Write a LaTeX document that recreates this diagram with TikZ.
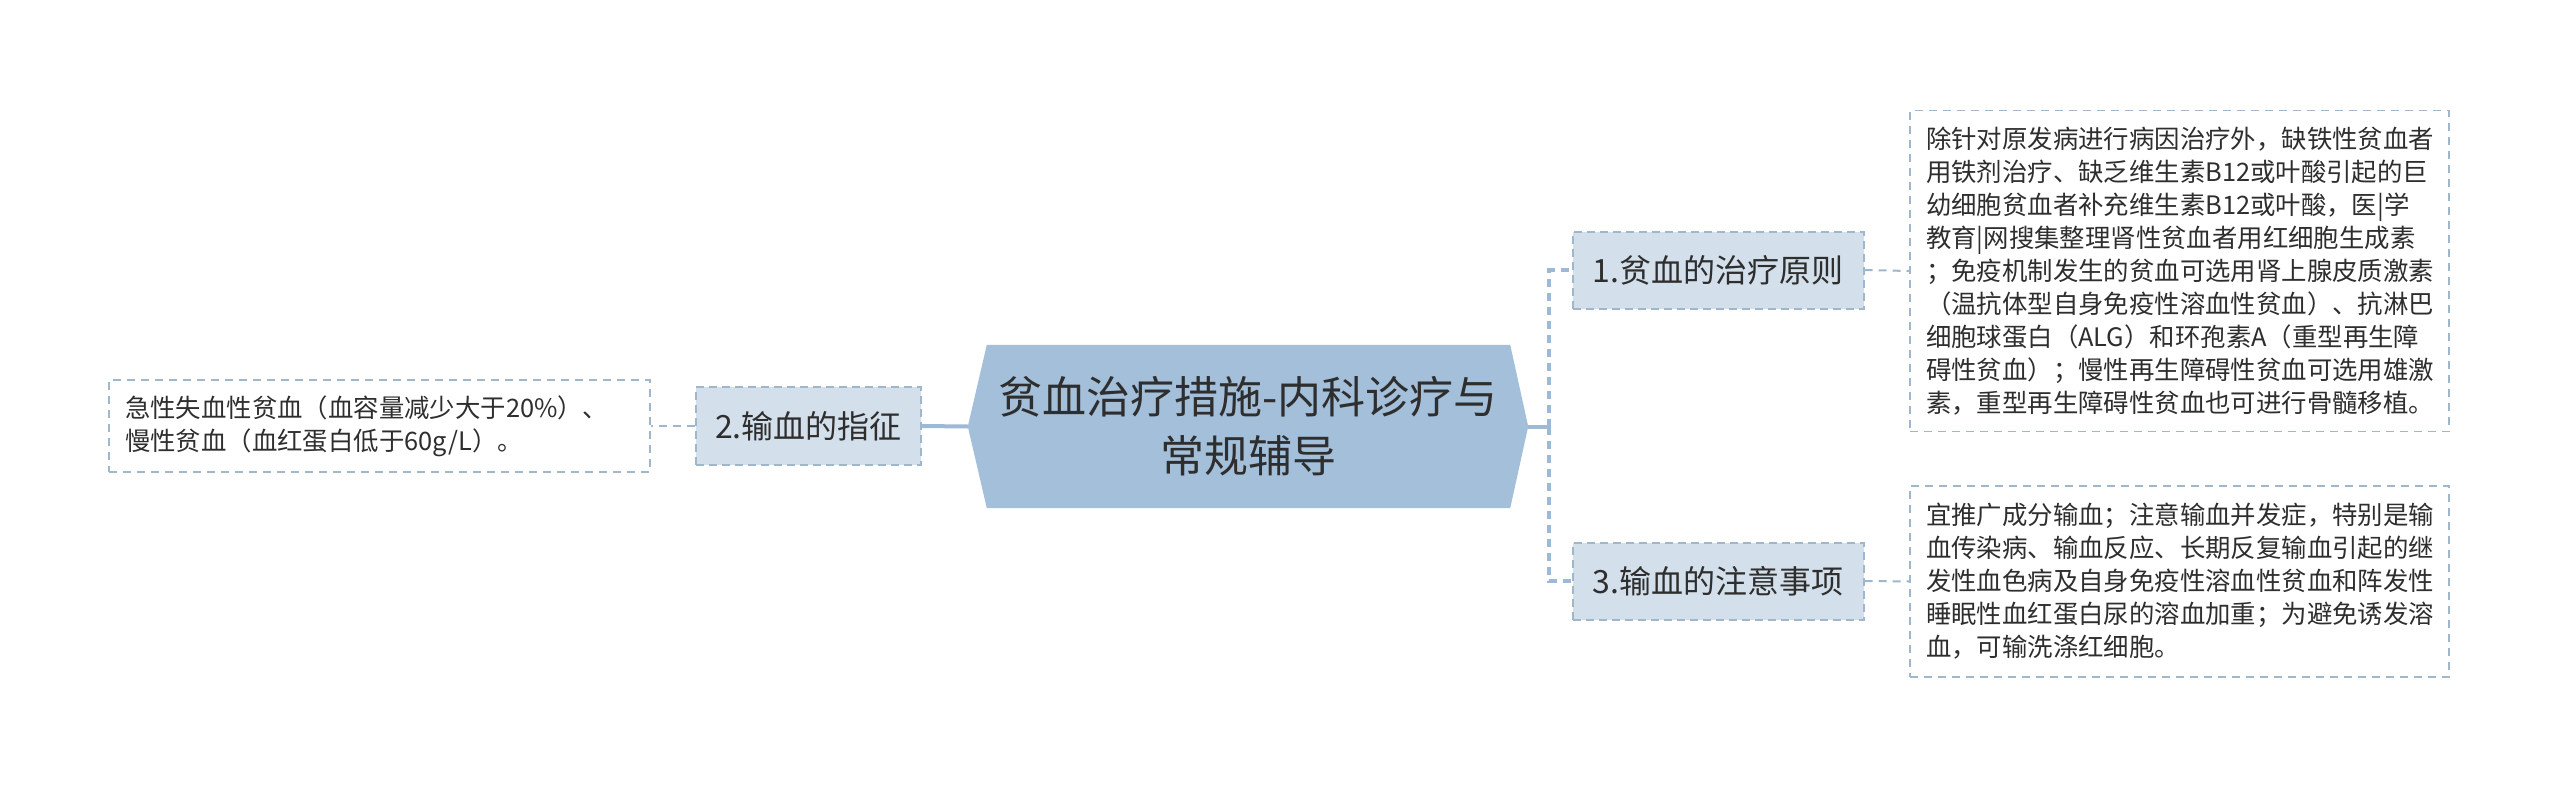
\documentclass[tikz,border=0pt]{standalone}
\usepackage{fontspec}
\setmainfont{Noto Sans CJK SC}
\usetikzlibrary{backgrounds}
\definecolor{centerfill}{HTML}{A3BFDA}
\definecolor{boxfill}{HTML}{D3DFEA}
\definecolor{linec}{HTML}{9DB9D4}
\definecolor{bordc}{HTML}{A0B6CB}
\definecolor{txt}{HTML}{2E2E2E}
\tikzset{
  branchbox/.style={draw=bordc, fill=boxfill, line width=2pt, dash pattern=on 8pt off 5pt,
    minimum width=291pt, minimum height=77pt, inner sep=0pt, text=txt,
    font=\fontsize{32}{37}\selectfont},
  leafbox/.style={draw=bordc, fill=white, line width=1.8pt, dash pattern=on 8pt off 6pt,
    inner xsep=16pt, inner ysep=0pt, text width=507pt, align=left, text=txt,
    font=\fontsize{25.4}{33}\selectfont},
  solidlink/.style={draw=linec, line width=4pt},
  dashlink/.style={draw=linec, line width=3.5pt, dash pattern=on 8pt off 6pt},
  leaflink/.style={draw=bordc, line width=2pt, dash pattern=on 8pt off 6pt},
}
\begin{document}
\begin{tikzpicture}[x=1pt,y=-1pt]
\useasboundingbox (0,0) rectangle (2560,787);
% center
\node (c) [minimum width=560pt, minimum height=163pt, inner sep=0pt, align=center, text=txt,
  font=\fontsize{44}{59}\selectfont] at (1248,426.5) {贫血治疗措施-内科诊疗与\\常规辅导};
\begin{scope}[on background layer]
\fill[centerfill] (c.west) -- ([xshift=19pt]c.north west) -- ([xshift=-18pt]c.north east)
  -- (c.east) -- ([xshift=-18pt]c.south east) -- ([xshift=19pt]c.south west) -- cycle;
\end{scope}
% branches
\node (b1) [branchbox] at (1718,270) {1.贫血的治疗原则};
\node (b3) [branchbox] at (1718,581) {3.输血的注意事项};
\node (b2) [branchbox, minimum width=225pt, minimum height=78pt] at (808.5,426) {2.输血的指征};
% leaves
\node (l1) [leafbox, minimum height=321pt] at (2179.5,271) {除针对原发病进行病因治疗外，缺铁性贫血者\\用铁剂治疗、缺乏维生素B12或叶酸引起的巨\\幼细胞贫血者补充维生素B12或叶酸，医|学\\教育|网搜集整理肾性贫血者用红细胞生成素\\；免疫机制发生的贫血可选用肾上腺皮质激素\\（温抗体型自身免疫性溶血性贫血）、抗淋巴\\细胞球蛋白（ALG）和环孢素A（重型再生障\\碍性贫血）；慢性再生障碍性贫血可选用雄激\\素，重型再生障碍性贫血也可进行骨髓移植。};
\node (l3) [leafbox, minimum height=191pt] at (2179.5,581.5) {宜推广成分输血；注意输血并发症，特别是输\\血传染病、输血反应、长期反复输血引起的继\\发性血色病及自身免疫性溶血性贫血和阵发性\\睡眠性血红蛋白尿的溶血加重；为避免诱发溶\\血，可输洗涤红细胞。};
\node (l2) [leafbox, text width=509pt, minimum height=92pt] at (379.5,426) {急性失血性贫血（血容量减少大于20\%）、\\慢性贫血（血红蛋白低于60g/L）。};
% connectors
\coordinate (j) at (1549,426.5);
\draw[solidlink] (c.east) -- (j);
\draw[dashlink] (j) |- (b1.west);
\draw[dashlink] (j) |- (b3.west);
\draw[solidlink] (c.west) -- (b2.east);
\draw[leaflink] (b1.east) -- (l1.west);
\draw[leaflink] (b3.east) -- (l3.west);
\draw[leaflink] (b2.west) -- (l2.east);
\end{tikzpicture}
\end{document}
